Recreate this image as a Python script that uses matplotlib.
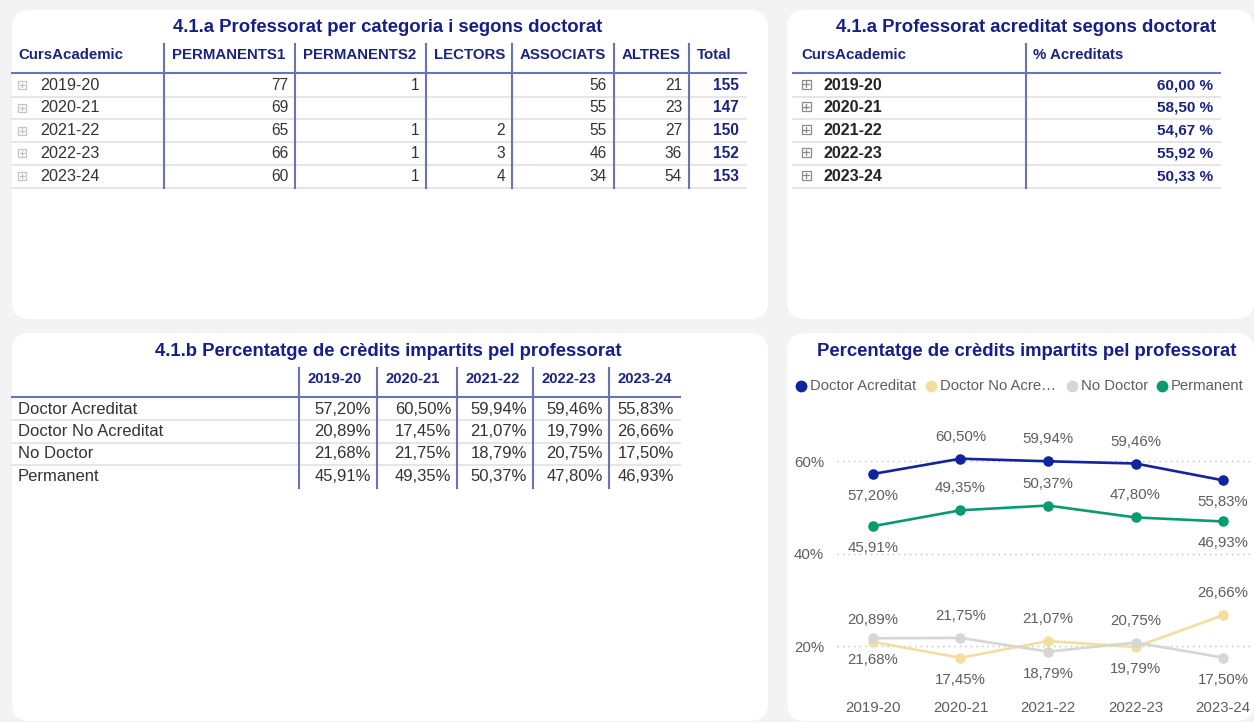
import matplotlib
matplotlib.use('Agg')
import matplotlib.pyplot as plt
from matplotlib.patches import FancyBboxPatch, Rectangle

plt.rcParams['font.family'] = ['Liberation Sans', 'DejaVu Sans']

# ---------------- data ----------------
years = ['2019-20', '2020-21', '2021-22', '2022-23', '2023-24']

t1_headers = ['CursAcademic', 'PERMANENTS1', 'PERMANENTS2', 'LECTORS', 'ASSOCIATS', 'ALTRES', 'Total']
permanents1 = [77, 69, 65, 66, 60]
permanents2 = [1, None, 1, 1, 1]
lectors = [None, None, 2, 3, 4]
associats = [56, 55, 55, 46, 34]
altres = [21, 23, 27, 36, 54]
total = [155, 147, 150, 152, 153]

t2_headers = ['CursAcademic', '% Acreditats']
pct_acreditats = [60.00, 58.50, 54.67, 55.92, 50.33]

series_names = ['Doctor Acreditat', 'Doctor No Acreditat', 'No Doctor', 'Permanent']
legend_labels = ['Doctor Acreditat', 'Doctor No Acre\u2026', 'No Doctor', 'Permanent']
doctor_acreditat = [57.20, 60.50, 59.94, 59.46, 55.83]
doctor_no_acreditat = [20.89, 17.45, 21.07, 19.79, 26.66]
no_doctor = [21.68, 21.75, 18.79, 20.75, 17.50]
permanent = [45.91, 49.35, 50.37, 47.80, 46.93]

y_ticks = [20, 40, 60]

title1 = '4.1.a Professorat per categoria i segons doctorat'
title2 = '4.1.a Professorat acreditat segons doctorat'
title3 = '4.1.b Percentatge de cr\u00e8dits impartits pel professorat'
title4 = 'Percentatge de cr\u00e8dits impartits pel professorat'

# ---------------- styles / layout ----------------
W, H = 1254, 722
BG = '#f3f3f3'
TITLE_C = '#141f8a'
HEAD_C = '#1a2380'
BODY_C = '#333333'
SEP_C = '#6a72b8'
ROW_SEP_C = '#e4e4e4'
LBL_C = '#605e5c'
colors = ['#12239e', '#f3dea0', '#d6d6d3', '#0a9a70']
# label above (+1) or below (-1) each point
label_side = [[-1, 1, 1, 1, -1],
              [1, -1, 1, -1, 1],
              [-1, 1, -1, 1, -1],
              [-1, 1, 1, 1, -1]]

fig = plt.figure(figsize=(W / 100, H / 100), dpi=100)
fig.patch.set_facecolor(BG)
bg = fig.add_axes([0, 0, 1, 1])
bg.set_xlim(0, W)
bg.set_ylim(H, 0)
bg.axis('off')


def panel(x0, y0, x1, y1):
    bg.add_patch(FancyBboxPatch((x0, y0), x1 - x0, y1 - y0,
                                boxstyle='round,pad=0,rounding_size=18',
                                fc='white', ec='none', zorder=0))


panel(12, 10, 768, 319)
panel(787, 10, 1254, 319)
panel(12, 333, 768, 721)
panel(787, 333, 1254, 721)


def txt(x, y, s, size, color, weight='normal', ha='left'):
    bg.text(x, y, s, fontsize=size, color=color, fontweight=weight,
            ha=ha, va='center', zorder=3)


def icon(cx, cy, size, color):
    h = size / 2
    bg.add_patch(Rectangle((cx - h, cy - h), size, size, fc='white', ec=color, lw=0.9, zorder=3))
    q = size * 0.28
    bg.plot([cx - q, cx + q], [cy, cy], color=color, lw=0.9, zorder=4)
    bg.plot([cx, cx], [cy - q, cy + q], color=color, lw=0.9, zorder=4)


def fmt_pct(v, sep=''):
    return f'{v:.2f}'.replace('.', ',') + sep + '%'


# ---------------- table 1 ----------------
txt(388, 28, title1, 13.3, TITLE_C, 'bold', 'center')
e1 = [12, 164, 295, 426, 512, 614, 689, 746]
hy, row0, dy = 55, 85, 22.8
for i, h in enumerate(t1_headers):
    x = 18 if i == 0 else e1[i] + 8
    txt(x, hy, h, 10.8, HEAD_C, 'bold')
bg.plot([e1[0], e1[-1]], [73, 73], color=SEP_C, lw=1.5, zorder=2)
for x in e1[1:-1]:
    bg.plot([x, x], [44, 188], color=SEP_C, lw=1.5, zorder=2)
cols1 = [permanents1, permanents2, lectors, associats, altres, total]
for r, yr in enumerate(years):
    y = row0 + r * dy
    bg.plot([e1[0], e1[-1]], [y + 11.5, y + 11.5], color=ROW_SEP_C, lw=1.3, zorder=1)
    icon(22, y, 8, '#c4c4c4')
    txt(40, y, yr, 11.6, BODY_C)
    for c, col in enumerate(cols1):
        v = col[r]
        if v is None:
            continue
        last = c == len(cols1) - 1
        txt(e1[c + 2] - 7, y, str(v), 11.2, HEAD_C if last else BODY_C,
            'bold' if last else 'normal', 'right')

# ---------------- table 2 ----------------
txt(1026, 28, title2, 13.3, TITLE_C, 'bold', 'center')
e2 = [793, 1026, 1220]
txt(801, hy, t2_headers[0], 10.8, HEAD_C, 'bold')
txt(1033, hy, t2_headers[1], 10.8, HEAD_C, 'bold')
bg.plot([e2[0], e2[-1]], [73, 73], color=SEP_C, lw=1.5, zorder=2)
bg.plot([e2[1], e2[1]], [44, 188], color=SEP_C, lw=1.5, zorder=2)
for r, yr in enumerate(years):
    y = row0 + r * dy
    bg.plot([e2[0], e2[-1]], [y + 11.5, y + 11.5], color=ROW_SEP_C, lw=1.3, zorder=1)
    icon(806, y - 1, 9, '#8a8a8a')
    txt(823, y, yr, 11.6, '#252423', 'bold')
    txt(1213, y, fmt_pct(pct_acreditats[r], ' '), 11.0, HEAD_C, 'bold', 'right')

# ---------------- table 3 ----------------
txt(388, 352, title3, 13.3, TITLE_C, 'bold', 'center')
e3 = [12, 299, 377, 457, 533, 609, 680]
hy3 = 379
for i, yr in enumerate(years):
    txt(e3[i + 1] + 8, hy3, yr, 10.6, HEAD_C, 'bold')
bg.plot([e3[0], e3[-1]], [397, 397], color=SEP_C, lw=1.5, zorder=2)
for x in e3[1:-1]:
    bg.plot([x, x], [368, 488], color=SEP_C, lw=1.5, zorder=2)
series = [doctor_acreditat, doctor_no_acreditat, no_doctor, permanent]
for r, (name, vals) in enumerate(zip(series_names, series)):
    y = 409 + r * 22.5
    if r < len(series) - 1:
        bg.plot([e3[0], e3[-1]], [y + 11.3, y + 11.3], color=ROW_SEP_C, lw=1.3, zorder=1)
    txt(18, y, name, 12, BODY_C)
    for c, v in enumerate(vals):
        txt(e3[c + 2] - 6, y, fmt_pct(v), 12, BODY_C, 'normal', 'right')

# ---------------- line chart ----------------
txt(1027, 352, title4, 13.3, TITLE_C, 'bold', 'center')
leg_x = [801, 931, 1072, 1162]
for lx, lab, col in zip(leg_x, legend_labels, colors):
    bg.plot(lx, 386, 'o', ms=8.5, color=col, mec='none', zorder=3)
    txt(lx + 9, 386, lab, 10.7, LBL_C)

ax = fig.add_axes([837 / W, 1 - 690 / H, (1254 - 837) / W, (690 - 400) / H])
ax.patch.set_alpha(0)
xs = list(range(len(years)))
for k, (vals, col) in enumerate(zip(series, colors)):
    ax.plot(xs, vals, color=col, lw=1.9, marker='o', ms=7.6, mec='none', zorder=3 + k)
    for i, v in enumerate(vals):
        ax.annotate(fmt_pct(v), (i, v), xytext=(0, 22 * label_side[k][i]),
                    textcoords='offset pixels', ha='center', va='center',
                    fontsize=10.8, color=LBL_C, zorder=10)
ax.set_xlim(-0.411, 4.354)
ax.set_ylim(10.49, 73.19)
ax.set_xticks(xs)
ax.set_xticklabels(years)
ax.set_yticks(y_ticks)
ax.set_yticklabels([f'{t}%' for t in y_ticks])
ax.grid(axis='y', linestyle=(0, (1, 3)), color='#c0c0c0', lw=1)
ax.set_axisbelow(True)
for s in ax.spines.values():
    s.set_visible(False)
ax.tick_params(axis='both', length=0, labelsize=10.8, labelcolor=LBL_C)
ax.tick_params(axis='y', pad=9.4)
ax.tick_params(axis='x', pad=8)

fig.savefig('out.png', dpi=100, facecolor=fig.get_facecolor())
